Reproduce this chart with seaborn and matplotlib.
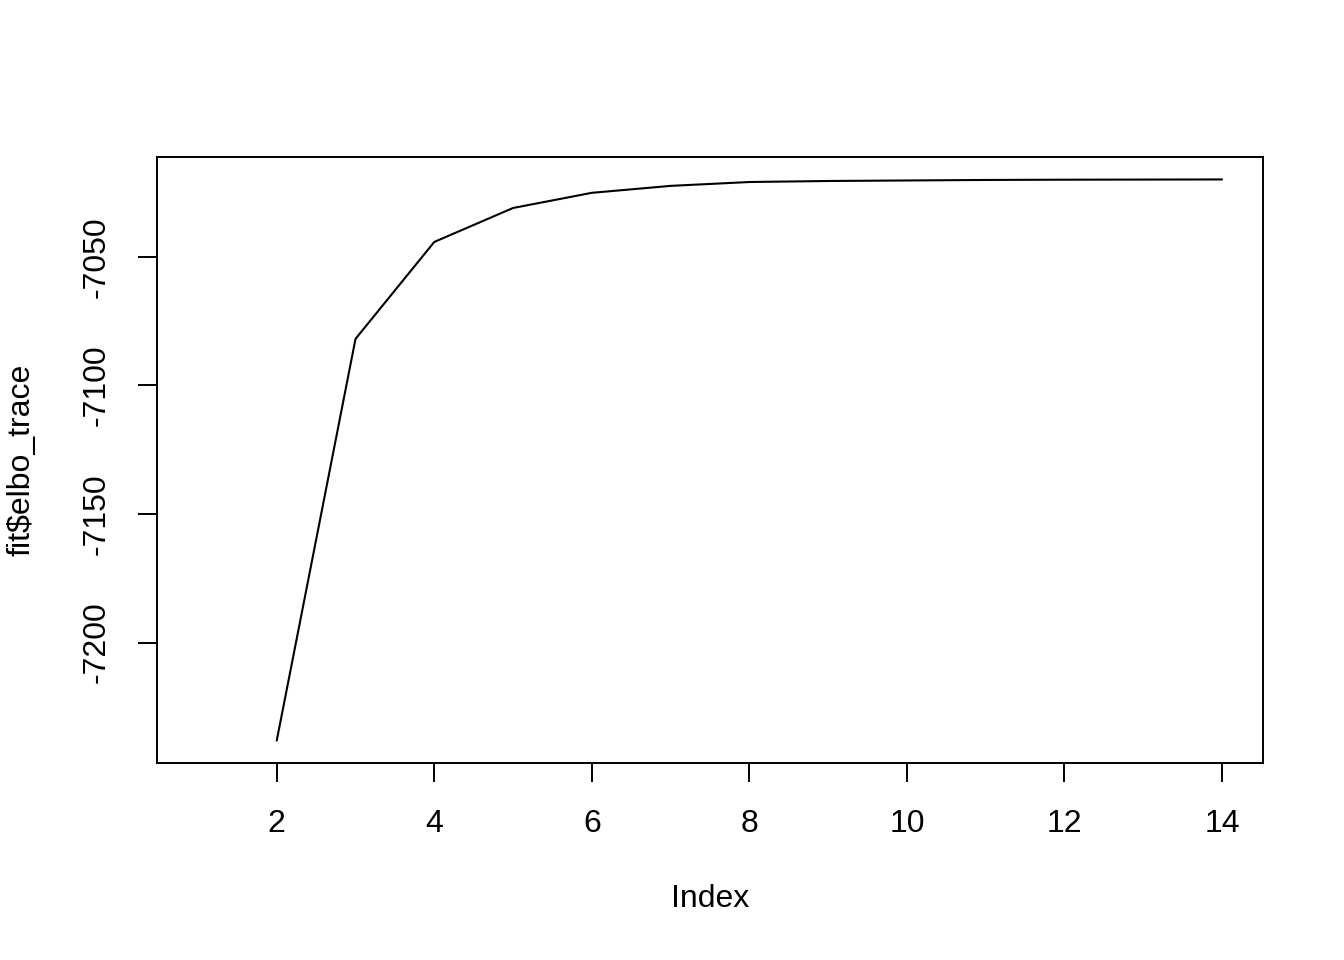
import numpy as np
import pandas as pd
import seaborn as sns
import matplotlib
matplotlib.use("Agg")
import matplotlib.pyplot as plt

# elbo trace per iteration (first entry not finite -> not drawn)
index = [1, 2, 3, 4, 5, 6, 7, 8, 9, 10, 11, 12, 13, 14]
elbo_trace = [np.nan, -7238.1, -7081.9, -7044.2, -7031.0, -7025.1, -7022.4,
              -7020.9, -7020.5, -7020.3, -7020.1, -7020.0, -7019.95, -7019.9]
x_ticks = [2, 4, 6, 8, 10, 12, 14]
y_ticks = [-7200, -7150, -7100, -7050]

sns.set_style("white")
plt.rcParams['font.family'] = ['Liberation Sans', 'DejaVu Sans']
plt.rcParams['text.color'] = 'black'
plt.rcParams['axes.labelcolor'] = 'black'
plt.rcParams['xtick.color'] = 'black'
plt.rcParams['ytick.color'] = 'black'

df = pd.DataFrame({'Index': index, 'elbo': elbo_trace})

fig = plt.figure(figsize=(13.44, 9.6), dpi=100)
ax = fig.add_axes([157 / 1344, 1 - 763 / 960, 1106 / 1344, 606 / 960])
sns.lineplot(data=df.dropna(), x='Index', y='elbo', color='black', lw=1.5, ax=ax)

# R-style 4% axis extension
x0, x1 = min(index), max(index)
y0, y1 = np.nanmin(elbo_trace), np.nanmax(elbo_trace)
dx, dy = (x1 - x0) * 0.04, (y1 - y0) * 0.04
ax.set_xlim(x0 - dx, x1 + dx)
ax.set_ylim(y0 - dy, y1 + dy)

ax.set_xticks(x_ticks)
ax.set_yticks(y_ticks)
ax.set_yticklabels([str(v) for v in y_ticks], rotation=90, va='center')
ax.tick_params(axis='both', direction='out', length=14, width=1.4,
               labelsize=23, pad=19, color='black', labelcolor='black',
               bottom=True, left=True)
for s in ax.spines.values():
    s.set_color('black')
    s.set_linewidth(1.4)

ax.set_xlabel('Index', fontsize=23, color='black')
ax.set_ylabel(r'fit\$elbo_trace', fontsize=23, color='black')
ax.xaxis.set_label_coords(0.5, (763 - 899) / 606)
ax.xaxis.label.set_va('center')
ax.yaxis.set_label_coords((22 - 157) / 1106, 0.5)
ax.yaxis.label.set_va('center')

fig.savefig('out.png', dpi=100, facecolor='white')
